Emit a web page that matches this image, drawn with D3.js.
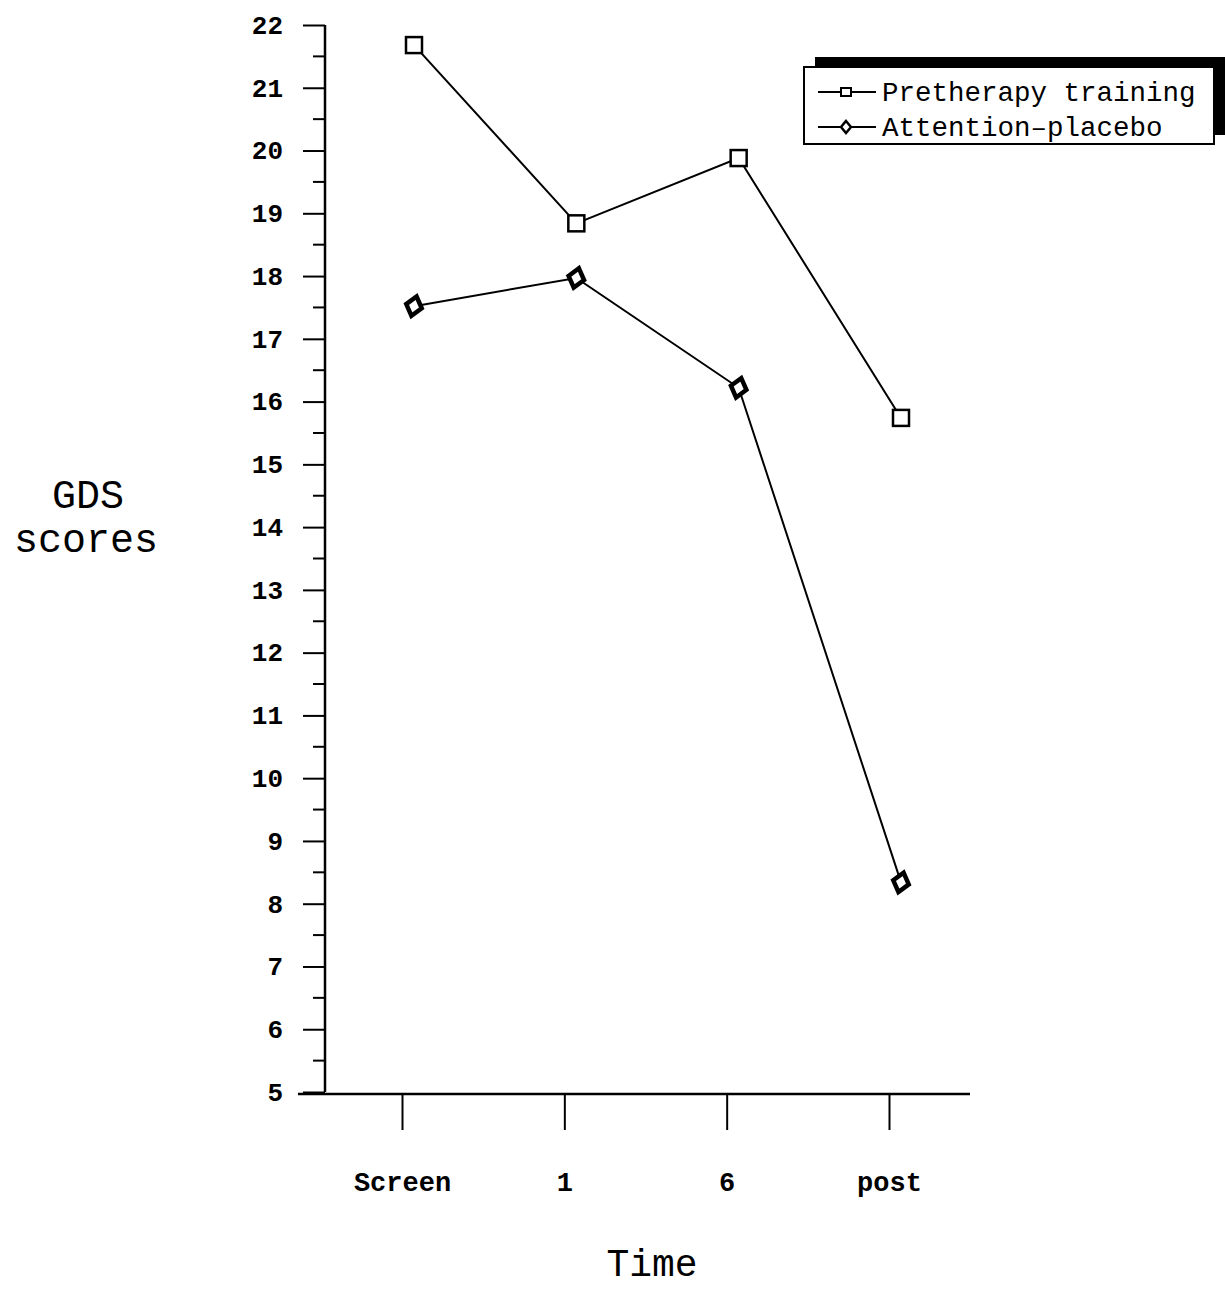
<!DOCTYPE html>
<html><head><meta charset="utf-8">
<script src="https://cdn.jsdelivr.net/npm/d3@7"></script>
<style>body{margin:0;background:#fff}</style>
</head><body>
<svg id="c" width="1225" height="1293"></svg>
<script>
const categories = ["Screen", "1", "6", "post"];
const pretherapy = [21.68, 18.84, 19.88, 15.74];
const attention = [17.52, 17.97, 16.22, 8.34];
const seriesNames = ["Pretherapy training", "Attention\u2013placebo"];
const yTicks = d3.range(5, 23);

const svg = d3.select("#c");
const mono = "'Liberation Mono','DejaVu Sans Mono',monospace";

const y = d3.scaleLinear().domain([5, 22]).range([1092, 25]);
const x = d3.scalePoint().domain(categories).range([402, 889]);
const markerShift = 12;

// Y axis
const yAxis = d3.axisLeft(y).tickValues(yTicks).tickSize(22).tickPadding(20).tickFormat(d3.format("d"));
const gy = svg.append("g").attr("transform", "translate(325,0)").call(yAxis);
gy.attr("font-size", null);
gy.select(".domain").attr("stroke", "#000").attr("stroke-width", 2.5).attr("d", `M0,${y(22)}V${y(5)}`);
gy.selectAll(".tick line").attr("stroke-width", 2);
gy.selectAll(".tick text").style("font-family", mono).style("font-weight", "bold").style("font-size", "26px").attr("fill", "#000");
// minor ticks
const minor = d3.range(5.5, 22, 1);
gy.selectAll(".minor").data(minor).enter().append("line")
  .attr("x1", -12).attr("x2", 0).attr("y1", d => y(d)).attr("y2", d => y(d))
  .attr("stroke", "#000").attr("stroke-width", 2);

// X axis
const xAxis = d3.axisBottom(x).tickSize(36).tickPadding(42).tickSizeOuter(0);
const gx = svg.append("g").attr("transform", "translate(0,1094)").call(xAxis);
gx.attr("font-size", null);
gx.select(".domain").attr("stroke", "#000").attr("stroke-width", 2.5).attr("d", "M298,0H970");
gx.selectAll(".tick line").attr("stroke-width", 2);
gx.selectAll(".tick text").style("font-family", mono).style("font-weight", "bold").style("font-size", "27px").attr("fill", "#000");

// Axis titles
svg.append("text").attr("x", 88).attr("y", 508).attr("text-anchor", "middle")
  .style("font-family", mono).style("font-size", "40px").text("GDS");
svg.append("text").attr("x", 86).attr("y", 552).attr("text-anchor", "middle")
  .style("font-family", mono).style("font-size", "40px").text("scores");
svg.append("text").attr("x", 652).attr("y", 1276).attr("text-anchor", "middle")
  .style("font-family", mono).style("font-size", "38px").text("Time");

// Lines
const line = d3.line().x((d, i) => x(categories[i]) + markerShift).y(d => y(d));
[pretherapy, attention].forEach(s => {
  svg.append("path").attr("d", line(s)).attr("fill", "none").attr("stroke", "#000").attr("stroke-width", 2);
});

// Markers
svg.selectAll(".sq").data(pretherapy).enter().append("rect")
  .attr("x", (d, i) => x(categories[i]) + markerShift - 8).attr("y", d => y(d) - 8)
  .attr("width", 16).attr("height", 16).attr("fill", "#fff").attr("stroke", "#000").attr("stroke-width", 2.5);
svg.selectAll(".dm").data(attention).enter().append("path")
  .attr("d", "M0,-10L8,0L0,10L-8,0Z")
  .attr("transform", (d, i) => `translate(${x(categories[i]) + markerShift},${y(d)}) rotate(15)`)
  .attr("fill", "#fff").attr("stroke", "#000").attr("stroke-width", 4.5);

// Legend
const lg = svg.append("g");
lg.append("rect").attr("x", 815).attr("y", 57).attr("width", 410).attr("height", 78).attr("fill", "#000");
lg.append("rect").attr("x", 804).attr("y", 67).attr("width", 410).attr("height", 77).attr("fill", "#fff").attr("stroke", "#000").attr("stroke-width", 2);
const legItems = [{name: seriesNames[0], y: 92, m: "sq"}, {name: seriesNames[1], y: 127, m: "dm"}];
legItems.forEach(it => {
  lg.append("line").attr("x1", 818).attr("x2", 876).attr("y1", it.y).attr("y2", it.y).attr("stroke", "#000").attr("stroke-width", 2);
  if (it.m === "sq") {
    lg.append("rect").attr("x", 841).attr("y", it.y - 4).attr("width", 10).attr("height", 8).attr("fill", "#fff").attr("stroke", "#000").attr("stroke-width", 2);
  } else {
    lg.append("path").attr("d", "M0,-6L5,0L0,6L-5,0Z").attr("transform", `translate(846,${it.y})`).attr("fill", "#fff").attr("stroke", "#000").attr("stroke-width", 2.5);
  }
  lg.append("text").attr("x", 882).attr("y", it.y + 9).style("font-family", mono).style("font-size", "27.5px").attr("fill", "#000").text(it.name);
});
</script>
</body></html>
